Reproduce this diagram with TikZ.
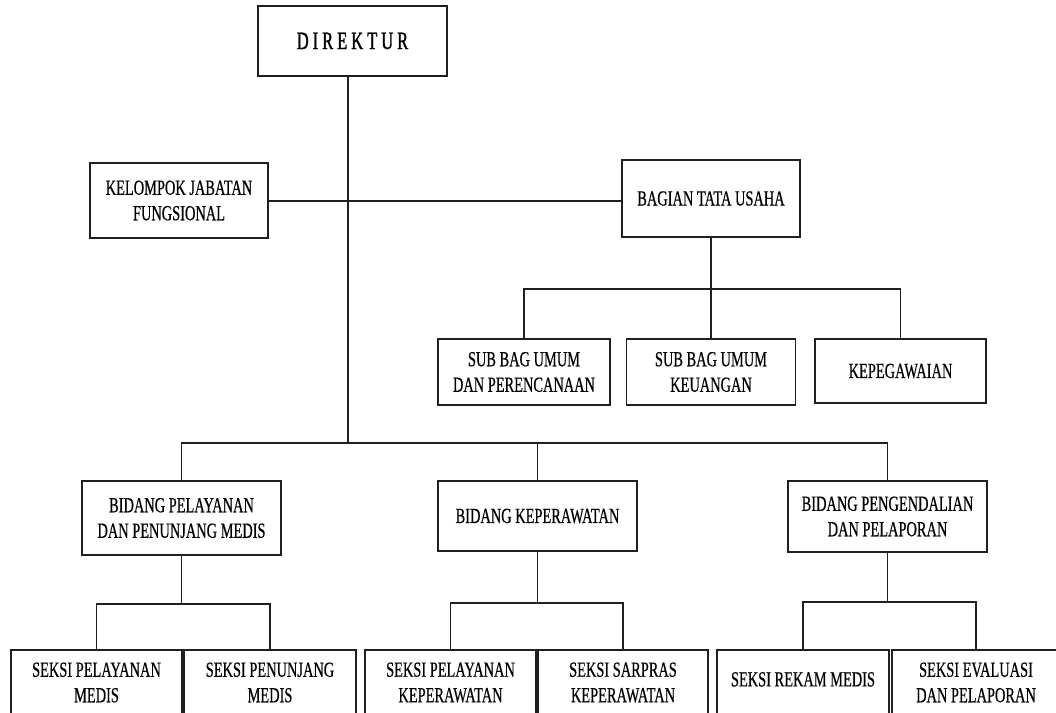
\documentclass[tikz,border=0pt]{standalone}
\usepackage{fontspec}
\setmainfont{Liberation Serif}[FakeStretch=0.67,FakeBold=0.5]
\newfontfamily\dirfont{Liberation Serif}[FakeStretch=0.66,FakeBold=1.2]
\newcommand{\spc}{\hspace{4pt}}
\begin{document}
\begin{tikzpicture}[x=1pt,y=-1pt,
  box/.style={draw=black!88, line width=1.5pt, align=center, inner sep=0pt, outer sep=0pt,
    font=\fontsize{21.5}{25.5}\selectfont},
  conn/.style={draw=black!88, line width=1.5pt}]
\useasboundingbox (0,0) rectangle (1056,712);
\clip (0,0) rectangle (1056,712);
% top
\node[box, minimum width=189pt, minimum height=70pt] (dir) at (352.5,41)
  {\dirfont\fontsize{25}{28}\selectfont D\spc I\spc R\spc E\spc K\spc T\spc U\spc R};
\node[box, minimum width=178pt, minimum height=75pt] (kjf) at (179,200.5) {KELOMPOK JABATAN\\FUNGSIONAL};
\node[box, minimum width=178pt, minimum height=77pt] (btu) at (711,198.5) {BAGIAN TATA USAHA};
% sub bagian
\node[box, minimum width=172pt, minimum height=66pt] (sb1) at (524,372) {SUB BAG UMUM\\DAN PERENCANAAN};
\node[box, minimum width=169pt, minimum height=66pt] (sb2) at (711,372) {SUB BAG UMUM\\KEUANGAN};
\node[box, minimum width=171pt, minimum height=64pt] (kep) at (900.5,371) {KEPEGAWAIAN};
% bidang
\node[box, minimum width=199pt, minimum height=74pt] (bppm) at (181.5,518) {BIDANG PELAYANAN\\DAN PENUNJANG MEDIS};
\node[box, minimum width=199pt, minimum height=70pt] (bk) at (537.5,516) {BIDANG KEPERAWATAN};
\node[box, minimum width=199pt, minimum height=71pt] (bpp) at (887.5,516.5) {BIDANG PENGENDALIAN\\DAN PELAPORAN};
% seksi
\node[box, minimum width=171pt, minimum height=65pt] (s1) at (96.5,682.5) {SEKSI PELAYANAN\\MEDIS};
\node[box, minimum width=172pt, minimum height=65pt] (s2) at (270,682.5) {SEKSI PENUNJANG\\MEDIS};
\node[box, minimum width=171pt, minimum height=65pt] (s3) at (450.5,682.5) {SEKSI PELAYANAN\\KEPERAWATAN};
\node[box, minimum width=170pt, minimum height=65pt] (s4) at (623,682.5) {SEKSI SARPRAS\\KEPERAWATAN};
\node[box, minimum width=172pt, minimum height=65pt] (s5) at (803,682.5) {\raisebox{6.5pt}{SEKSI REKAM MEDIS}};
\node[box, minimum width=168pt, minimum height=65pt] (s6) at (976,682.5) {SEKSI EVALUASI\\DAN PELAPORAN};
% connectors
\coordinate (hub) at (348,443);
\coordinate (tu) at (711,289);
\coordinate (h1) at (0,604);
\coordinate (h2) at (0,603);
\coordinate (h3) at (0,602);
\draw[conn] ([xshift=-4.5pt]dir.south) -- (hub);
\draw[conn] ([yshift=-0.5pt]kjf.east) -- ([yshift=-0.5pt]kjf.east -| btu.west);
\draw[conn] (btu.south) -- (tu);
\draw[conn] (sb1.north) |- (tu) -| (kep.north);
\draw[conn] (sb2.north) -- (sb2.north |- tu);
\draw[conn] (bppm.north) |- (hub) -| (bpp.north);
\draw[conn] (bk.north) -- (bk.north |- hub);
\draw[conn] (bppm.south) -- (bppm.south |- h1);
\draw[conn] (s1.north) |- (bppm.south |- h1) -| (s2.north);
\draw[conn] (bk.south) -- (bk.south |- h2);
\draw[conn] (s3.north) |- (bk.south |- h2) -| (s4.north);
\draw[conn] (bpp.south) -- (bpp.south |- h3);
\draw[conn] (s5.north) |- (bpp.south |- h3) -| (s6.north);
\end{tikzpicture}
\end{document}
